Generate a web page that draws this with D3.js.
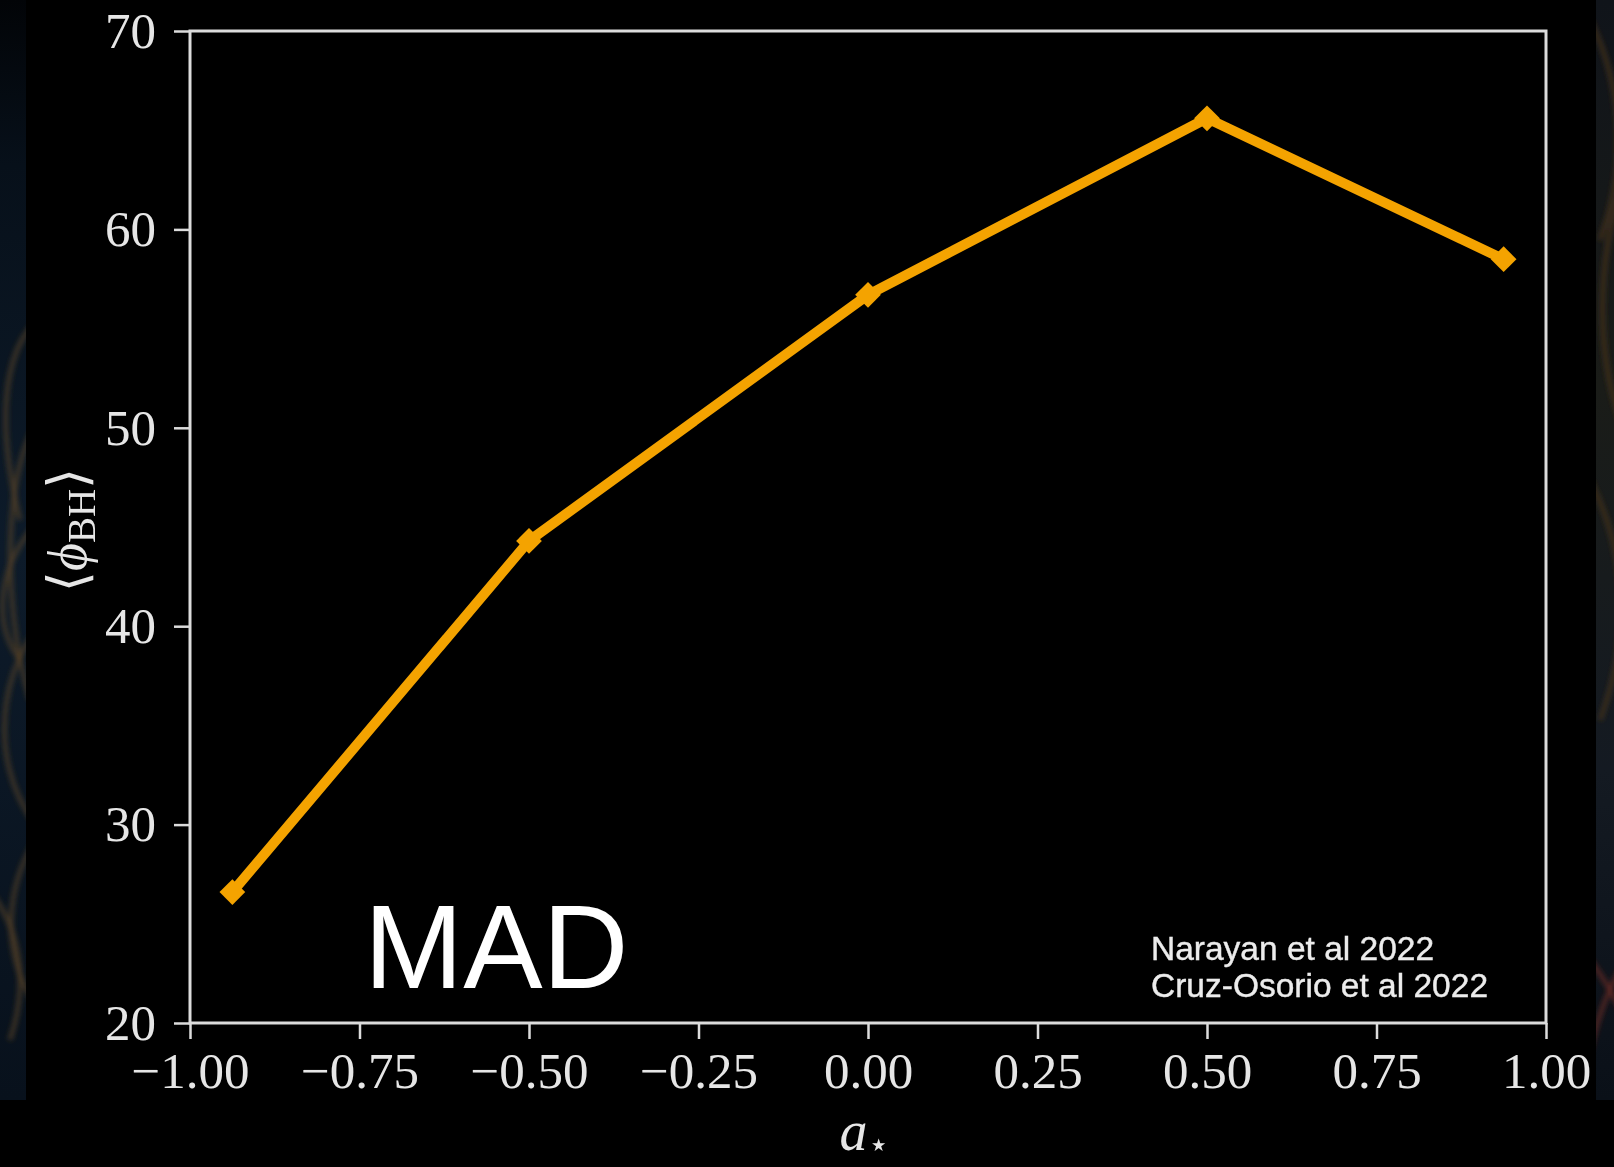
<!DOCTYPE html>
<html>
<head>
<meta charset="utf-8">
<script src="https://cdn.jsdelivr.net/npm/d3@7"></script>
<style>
  html, body { margin: 0; padding: 0; background: #000; }
  svg { display: block; }
</style>
</head>
<body>
<svg id="chart" width="1614" height="1167"></svg>
<script>
// Black-hole spin vs. average magnetic flux (MAD simulations)
const spins = [-0.9375, -0.5, 0.0, 0.5, 0.9375];
const fluxValues = [26.6, 44.3, 56.7, 65.6, 58.5];

const xTickValues = [-1.0, -0.75, -0.5, -0.25, 0.0, 0.25, 0.5, 0.75, 1.0];
const xTickLabels = ["\u22121.00", "\u22120.75", "\u22120.50", "\u22120.25", "0.00", "0.25", "0.50", "0.75", "1.00"];
const yTickValues = [20, 30, 40, 50, 60, 70];
const yTickLabels = ["20", "30", "40", "50", "60", "70"];

const sources = ["Narayan et al 2022", "Cruz-Osorio et al 2022"];
const regimeLabel = "MAD";

const W = 1614, H = 1167;
const plot = { left: 190, top: 31, right: 1546, bottom: 1023 };

const svg = d3.select("#chart");
const defs = svg.append("defs");

// soft focus used for the plot layer and the backdrop art
defs.append("filter").attr("id", "soft")
  .attr("x", "-5%").attr("y", "-5%").attr("width", "110%").attr("height", "110%")
  .append("feGaussianBlur").attr("stdDeviation", 0.7);
defs.append("filter").attr("id", "haze")
  .attr("x", "-50%").attr("y", "-10%").attr("width", "200%").attr("height", "120%")
  .append("feGaussianBlur").attr("stdDeviation", 2.5);

svg.append("rect").attr("width", W).attr("height", H).attr("fill", "#000");

// backdrop artwork peeking out at the slide edges
const leftGrad = defs.append("linearGradient").attr("id", "leftGrad")
  .attr("x1", 0).attr("y1", 0).attr("x2", 0).attr("y2", 1);
leftGrad.append("stop").attr("offset", "0").attr("stop-color", "#020407");
leftGrad.append("stop").attr("offset", "0.15").attr("stop-color", "#07101a");
leftGrad.append("stop").attr("offset", "0.5").attr("stop-color", "#0d1b2a");
leftGrad.append("stop").attr("offset", "1").attr("stop-color", "#08111c");

const rightGrad = defs.append("linearGradient").attr("id", "rightGrad")
  .attr("x1", 0).attr("y1", 0).attr("x2", 0).attr("y2", 1);
rightGrad.append("stop").attr("offset", "0").attr("stop-color", "#10141a");
rightGrad.append("stop").attr("offset", "0.35").attr("stop-color", "#1a1c18");
rightGrad.append("stop").attr("offset", "0.7").attr("stop-color", "#141a22");
rightGrad.append("stop").attr("offset", "1").attr("stop-color", "#0a1018");

defs.append("clipPath").attr("id", "leftClip")
  .append("rect").attr("x", 0).attr("y", 0).attr("width", 26).attr("height", 1100);
defs.append("clipPath").attr("id", "rightClip")
  .append("rect").attr("x", 1596).attr("y", 0).attr("width", 18).attr("height", 1100);

const leftArt = svg.append("g").attr("clip-path", "url(#leftClip)");
leftArt.append("rect").attr("x", 0).attr("y", 0).attr("width", 26).attr("height", 1100)
  .attr("fill", "url(#leftGrad)");
const leftArcs = [
  "M 60 310 C 10 320, -10 400, 20 520", "M 40 420 C 5 460, 0 600, 30 700",
  "M 70 600 C 0 640, -20 760, 40 830", "M 50 820 C 0 880, 0 960, 40 1010",
  "M -20 880 C 20 920, 30 980, 10 1040", "M 40 520 C 0 560, -10 620, 20 660"
];
leftArt.append("g").attr("filter", "url(#haze)")
  .selectAll("path").data(leftArcs).join("path")
  .attr("d", d => d).attr("fill", "none")
  .attr("stroke", "#5a4224").attr("stroke-opacity", 0.6).attr("stroke-width", 5);

const rightArt = svg.append("g").attr("clip-path", "url(#rightClip)");
rightArt.append("rect").attr("x", 1596).attr("y", 0).attr("width", 18).attr("height", 1100)
  .attr("fill", "url(#rightGrad)");
const rightArcs = [
  "M 1590 20 C 1620 80, 1630 160, 1600 240", "M 1640 150 C 1600 220, 1590 330, 1620 420",
  "M 1590 480 C 1630 560, 1630 640, 1600 720", "M 1640 940 C 1610 980, 1600 1010, 1590 1050",
  "M 1590 960 C 1620 1000, 1630 1030, 1640 1060"
];
rightArt.append("g").attr("filter", "url(#haze)")
  .selectAll("path").data(rightArcs).join("path")
  .attr("d", d => d).attr("fill", "none")
  .attr("stroke", (d, i) => i < 3 ? "#4a3420" : "#6a2a24")
  .attr("stroke-opacity", 0.7).attr("stroke-width", 5);

// chart panel
svg.append("rect").attr("x", 26).attr("y", 0).attr("width", 1570).attr("height", H).attr("fill", "#000");

const x = d3.scaleLinear().domain([-1, 1]).range([plot.left, plot.right]);
const y = d3.scaleLinear().domain([20, 70]).range([plot.bottom, plot.top]);

const chart = svg.append("g").attr("filter", "url(#soft)");
const serif = "'Liberation Serif', 'DejaVu Serif', serif";
const axisColor = "#dcdcdc";

// bottom axis
const xAxis = chart.append("g")
  .attr("transform", `translate(0,${plot.bottom})`)
  .call(d3.axisBottom(x).tickValues(xTickValues)
    .tickFormat((d, i) => xTickLabels[i]).tickSize(16).tickPadding(13));
// left axis
const yAxis = chart.append("g")
  .attr("transform", `translate(${plot.left},0)`)
  .call(d3.axisLeft(y).tickValues(yTickValues)
    .tickFormat((d, i) => yTickLabels[i]).tickSize(16).tickPadding(18));

[xAxis, yAxis].forEach(g => {
  g.select(".domain").remove();
  g.selectAll(".tick line").attr("stroke", axisColor).attr("stroke-width", 2.5);
  g.selectAll(".tick text")
    .attr("fill", "#e6e6e6")
    .attr("font-family", serif)
    .attr("font-size", 51);
});

// frame
chart.append("rect")
  .attr("x", plot.left).attr("y", plot.top)
  .attr("width", plot.right - plot.left).attr("height", plot.bottom - plot.top)
  .attr("fill", "none").attr("stroke", axisColor).attr("stroke-width", 3);

// series line and markers
const pts = spins.map((s, i) => [s, fluxValues[i]]);
const orange = "#f4a300";
chart.append("path")
  .datum(pts)
  .attr("d", d3.line().x(d => x(d[0])).y(d => y(d[1])))
  .attr("fill", "none").attr("stroke", orange)
  .attr("stroke-width", 10).attr("stroke-linejoin", "round");

chart.append("g").selectAll("path").data(pts).join("path")
  .attr("d", d3.symbol(d3.symbolSquare, 330))
  .attr("transform", d => `translate(${x(d[0])},${y(d[1])}) rotate(45)`)
  .attr("fill", orange);

// axis titles
const xTitle = chart.append("text")
  .attr("x", (plot.left + plot.right) / 2 - 4).attr("y", 1150)
  .attr("fill", "#e6e6e6").attr("font-family", serif).attr("text-anchor", "middle");
xTitle.append("tspan").attr("font-style", "italic").attr("font-size", 56).text("a");
xTitle.append("tspan").attr("font-size", 34).attr("dy", 6).text("\u22C6");

const yTitle = chart.append("text")
  .attr("transform", "translate(86,530) rotate(-90)")
  .attr("fill", "#e6e6e6").attr("font-family", serif).attr("text-anchor", "middle")
  .attr("font-size", 54);
yTitle.append("tspan").text("\u27E8");
yTitle.append("tspan").attr("font-style", "italic").text("\u03D5");
yTitle.append("tspan").attr("font-size", 39).attr("dy", 9).text("BH");
yTitle.append("tspan").attr("dy", -9).text("\u27E9");

// source note
chart.append("g").selectAll("text").data(sources).join("text")
  .attr("x", 1151).attr("y", (d, i) => 960 + i * 37)
  .attr("fill", "#ececec")
  .attr("font-family", "'Liberation Sans', Arial, sans-serif")
  .attr("font-size", 33.5)
  .attr("stroke", "#ececec").attr("stroke-width", 0.4)
  .text(d => d);

// regime label
svg.append("text")
  .attr("x", 364).attr("y", 988)
  .attr("fill", "#ffffff")
  .attr("font-family", "'Liberation Sans', Arial, sans-serif")
  .attr("font-size", 119)
  .text(regimeLabel);
</script>
</body>
</html>
